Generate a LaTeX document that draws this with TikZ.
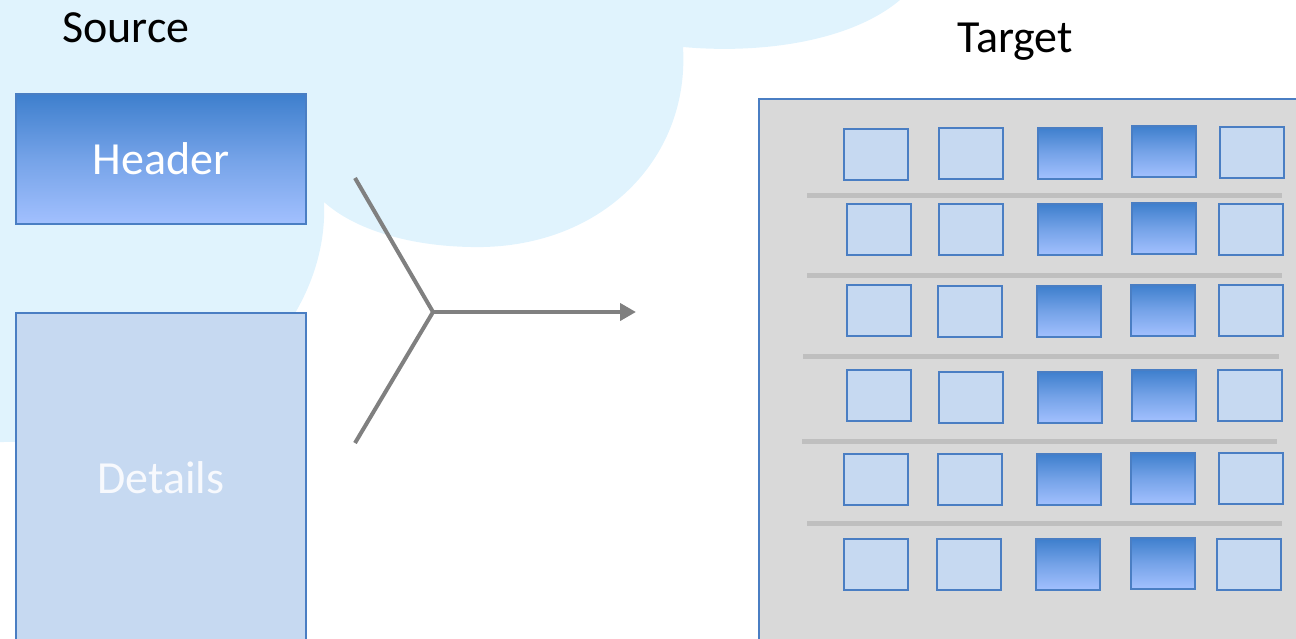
\documentclass[tikz,border=0pt]{standalone}
\usepackage{fontspec}
\setmainfont{Carlito}
\usetikzlibrary{arrows.meta}
\definecolor{cloudc}{HTML}{E0F3FD}
\definecolor{bordc}{HTML}{4A7EC3}
\definecolor{lightc}{HTML}{C6D9F1}
\definecolor{topc}{HTML}{3E7FCD}
\definecolor{botc}{HTML}{A2C0FE}
\definecolor{panelc}{HTML}{D9D9D9}
\definecolor{sepc}{HTML}{BFBFBF}
\definecolor{arrc}{HTML}{808080}
\definecolor{dettext}{HTML}{F7F9FD}
\tikzset{
  bigfont/.style={font=\fontsize{46}{55}\selectfont},
  gradbox/.style={draw=bordc, line width=2pt, inner sep=0pt, top color=topc, bottom color=botc, middle color=topc!45!botc},
  lightbox/.style={draw=bordc, line width=2pt, inner sep=0pt, fill=lightc},
  sq/.style={minimum width=64pt, minimum height=51pt},
  lsq/.style={lightbox, sq},
  gsq/.style={gradbox, sq},
  sepline/.style={draw=sepc, line width=5pt},
  conn/.style={draw=arrc, line width=4pt},
}
\begin{document}
\begin{tikzpicture}[x=1pt,y=-1pt]
\useasboundingbox (0,0) rectangle (1296,638);
\clip (0,0) rectangle (1296,638);
% cloud background
\fill[cloudc] (0,0) -- (900,0) .. controls (850,42) and (760,54) .. (683,47)
  .. controls (690,160) and (600,250) .. (471,247)
  .. controls (410,246) and (355,230) .. (324,202)
  .. controls (328,290) and (268,378) .. (170,420)
  .. controls (120,438) and (60,442) .. (0,442) -- cycle;
% labels
\node[bigfont] (source) at (126,28) {Source};
\node[bigfont] (target) at (1015,42) {Target};
% source boxes
\node[gradbox, minimum width=290pt, minimum height=130pt, bigfont, text=white] (header) at (161,159) {Header};
\node[lightbox, minimum width=290pt, minimum height=330pt, bigfont, text=dettext] (details) at (161,478) {Details};
% connector
\coordinate (ytop) at (355,178);
\coordinate (ybot) at (355,443);
\coordinate (yjoin) at (433,312);
\coordinate (tip) at (636,312);
\draw[conn, line join=miter] (ytop) -- (yjoin) -- (ybot);
\draw[conn, -{Triangle[length=16pt,width=17pt]}] (yjoin) -- (tip);
% target panel
\node[draw=bordc, line width=2pt, fill=panelc, minimum width=600pt, minimum height=600pt, anchor=north west, inner sep=0pt] (panel) at (758,98) {};
% separators
\draw[sepline] (807,195.5) -- (1282,195.5);
\draw[sepline] (807,275) -- (1282,275);
\draw[sepline] (803,356.5) -- (1279,356.5);
\draw[sepline] (802,441.5) -- (1277,441.5);
\draw[sepline] (807,523.5) -- (1282,523.5);
% squares row 1
\node[lsq] (s11) at (876,154.5) {};
\node[lsq] (s12) at (970.5,153) {};
\node[gsq] (s13) at (1070,153) {};
\node[gsq] (s14) at (1164,151.5) {};
\node[lsq] (s15) at (1252,152) {};
% row 2
\node[lsq] (s21) at (878.5,229.5) {};
\node[lsq] (s22) at (970.5,229.5) {};
\node[gsq] (s23) at (1070,229.5) {};
\node[gsq] (s24) at (1164,228.5) {};
\node[lsq] (s25) at (1251,229.5) {};
% row 3
\node[lsq] (s31) at (878.5,310.5) {};
\node[lsq] (s32) at (970,311.5) {};
\node[gsq] (s33) at (1069,311.5) {};
\node[gsq] (s34) at (1163,310) {};
\node[lsq] (s35) at (1251,310.5) {};
% row 4
\node[lsq] (s41) at (878.5,395.5) {};
\node[lsq] (s42) at (970.5,397) {};
\node[gsq] (s43) at (1070,397) {};
\node[gsq] (s44) at (1164,395.5) {};
\node[lsq] (s45) at (1250,395.5) {};
% row 5
\node[lsq] (s51) at (875.5,479.5) {};
\node[lsq] (s52) at (970,479.5) {};
\node[gsq] (s53) at (1069,479.5) {};
\node[gsq] (s54) at (1163,478) {};
\node[lsq] (s55) at (1251,478.5) {};
% row 6
\node[lsq] (s61) at (875.5,564.5) {};
\node[lsq] (s62) at (969,564.5) {};
\node[gsq] (s63) at (1068,564.5) {};
\node[gsq] (s64) at (1162.5,563) {};
\node[lsq] (s65) at (1249,564.5) {};
\end{tikzpicture}
\end{document}
